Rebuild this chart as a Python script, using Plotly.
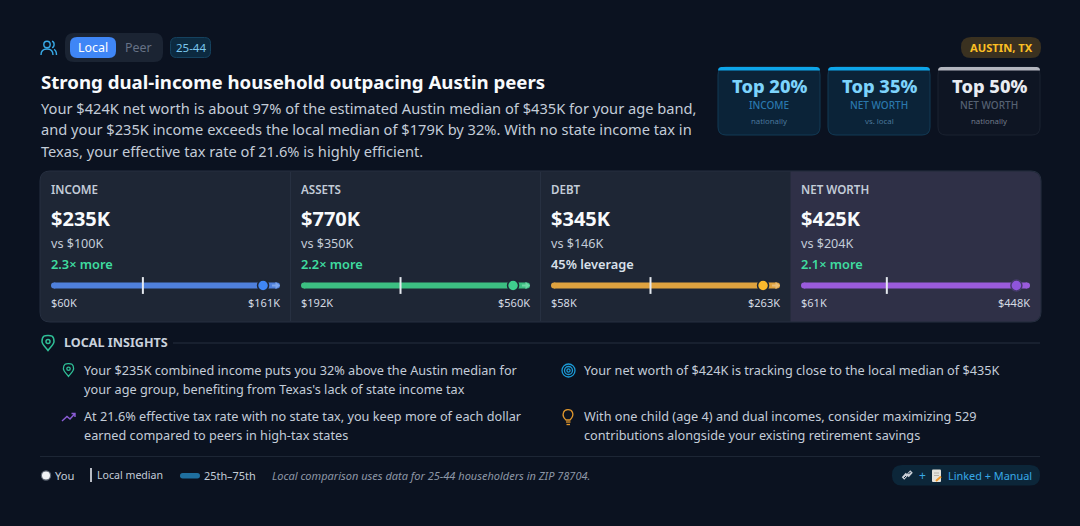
import plotly.graph_objects as go

W, H = 1080, 526
FONT = "Noto Sans"
BG = "#0b1220"

# ---- data ----
metric_labels = ["INCOME", "ASSETS", "DEBT", "NET WORTH"]
metric_values = ["$235K", "$770K", "$345K", "$425K"]
peer_labels = ["vs $100K", "vs $350K", "vs $146K", "vs $204K"]
delta_labels = ["2.3× more", "2.2× more", "45% leverage", "2.1× more"]
you_k = [235, 770, 345, 425]
median_k = [100, 350, 146, 204]
p25_k = [60, 192, 58, 61]
p75_k = [161, 560, 263, 448]
p25_labels = ["$60K", "$192K", "$58K", "$61K"]
p75_labels = ["$161K", "$560K", "$263K", "$448K"]
track_colors = ["#4f80dc", "#3cbf82", "#dfa23f", "#9a5bdc"]
marker_colors = ["#3f86f6", "#3fcf8e", "#fbb92c", "#8f55dc"]
marker_rings = ["#1e2635", "#1e2635", "#1e2635", "#453a6b"]
arrow_colors = ["#7ea5ea", "#6fd6a6", "#e8bd78", "#9a5bdc"]
delta_colors = ["#3fdca0", "#3fdca0", "#d9e0ea", "#3fdca0"]
rank_titles = ["Top 20%", "Top 35%", "Top 50%"]
rank_labels = ["INCOME", "NET WORTH", "NET WORTH"]
rank_subs = ["nationally", "vs. local", "nationally"]
body_lines = [
    "Your $424K net worth is about 97% of the estimated Austin median of $435K for your age band,",
    "and your $235K income exceeds the local median of $179K by 32%. With no state income tax in",
    "Texas, your effective tax rate of 21.6% is highly efficient.",
]
insights_left = [
    "Your $235K combined income puts you 32% above the Austin median for",
    "your age group, benefiting from Texas's lack of state income tax",
    "At 21.6% effective tax rate with no state tax, you keep more of each dollar",
    "earned compared to peers in high-tax states",
]
insights_right = [
    "Your net worth of $424K is tracking close to the local median of $435K",
    "With one child (age 4) and dual incomes, consider maximizing 529",
    "contributions alongside your existing retirement savings",
]

shapes, annos = [], []


def rrect(x0, y0, x1, y1, r=8, tl=True, tr=True, br=True, bl=True):
    p = f"M{x0 + (r if tl else 0)},{y0} L{x1 - (r if tr else 0)},{y0} "
    if tr:
        p += f"Q{x1},{y0} {x1},{y0 + r} "
    p += f"L{x1},{y1 - (r if br else 0)} "
    if br:
        p += f"Q{x1},{y1} {x1 - r},{y1} "
    p += f"L{x0 + (r if bl else 0)},{y1} "
    if bl:
        p += f"Q{x0},{y1} {x0},{y1 - r} "
    p += f"L{x0},{y0 + (r if tl else 0)} "
    if tl:
        p += f"Q{x0},{y0} {x0 + r},{y0} "
    return p + "Z"


def box(x0, y0, x1, y1, fill, r=8, line=None, lw=1, **kw):
    shapes.append(dict(type="path", path=rrect(x0, y0, x1, y1, r, **kw), xref="x", yref="y",
                       fillcolor=fill, line=dict(color=line or fill, width=lw if line else 0), layer="below"))


def path(d, color, lw=1.4, fill="rgba(0,0,0,0)"):
    shapes.append(dict(type="path", path=d, xref="x", yref="y", fillcolor=fill,
                       line=dict(color=color, width=lw), layer="below"))


def circle(cx, cy, r, color, lw=1.4, fill="rgba(0,0,0,0)"):
    shapes.append(dict(type="circle", x0=cx - r, x1=cx + r, y0=cy - r, y1=cy + r, xref="x", yref="y",
                       fillcolor=fill, line=dict(color=color, width=lw), layer="below"))


def hline(x0, x1, y, color, lw=1):
    shapes.append(dict(type="line", x0=x0, x1=x1, y0=y, y1=y, xref="x", yref="y",
                       line=dict(color=color, width=lw), layer="below"))


def vline(x, y0, y1, color, lw=1):
    shapes.append(dict(type="line", x0=x, x1=x, y0=y0, y1=y1, xref="x", yref="y",
                       line=dict(color=color, width=lw), layer="below"))


def text(x, y, s, size, color, anchor="left", bold=False, italic=False, weight=None):
    annos.append(dict(x=x, y=y, xref="x", yref="y", text=s, showarrow=False, xanchor=anchor, yanchor="middle",
                      borderpad=0, borderwidth=0,
                      font=dict(family=FONT, size=size, color=color, weight=weight or (700 if bold else 400),
                                style="italic" if italic else "normal")))


def pin(cx, cy, s, color, lw=1.4):
    top, bot = cy - 7.5 * s, cy + 7.5 * s
    w = 6 * s
    path(f"M{cx},{bot} C{cx - 2 * s},{cy + 4.5 * s} {cx - w},{cy + 1.5 * s} {cx - w},{cy - 1.5 * s} "
         f"C{cx - w},{top - 0.2} {cx - 2.5 * s},{top} {cx},{top} "
         f"C{cx + 2.5 * s},{top} {cx + w},{top - 0.2} {cx + w},{cy - 1.5 * s} "
         f"C{cx + w},{cy + 1.5 * s} {cx + 2 * s},{cy + 4.5 * s} {cx},{bot} Z", color, lw)
    circle(cx, cy - 1.5 * s, 2 * s, color, lw)


# ---- header ----
c = "#38a9e6"
circle(47, 44.5, 3.2, c, 1.4)
path("M41,55 C41,50.5 44,49 47,49 C50,49 53,50.5 53,55", c, 1.4)
path("M52,41.3 C54.8,41.8 54.8,47 52,47.6", c, 1.4)
path("M54,49.4 C55.8,50.2 56.5,52.5 56.5,55", c, 1.4)

box(65, 33, 163, 62, "#1b2433", r=9)
box(70, 37, 116, 58, "#3f86f6", r=7)
text(93, 47, "Local", 12.4, "#ffffff", "center")
text(138, 47, "Peer", 12.4, "#667286", "center")
box(170.5, 37.5, 210.5, 57.5, "#0c2a40", r=6, line="#15425f")
text(190.5, 47, "25-44", 11.5, "#7cc8ef", "center")
box(961, 37, 1041, 58, "#3a3120", r=10)
text(1001, 47, "AUSTIN, TX", 11.2, "#fbbf24", "center", bold=True)

text(40.5, 81.5, "Strong dual-income household outpacing Austin peers", 18.65, "#f8fafc", bold=True)
for y, line in zip([107.5, 129, 150.5], body_lines):
    text(40.5, y, line, 14.65, "#c3ccd8")

# ---- ranking cards ----
rank_x = [(718, 820), (828, 930), (938, 1040)]
rank_fill = ["#0b2338", "#0b2338", "#0e1523"]
rank_line = ["#123a55", "#123a55", "#1a2230"]
rank_bar = ["#0ea5e9", "#0ea5e9", "#b3b6bf"]
rank_title = ["#7dd3fc", "#7dd3fc", "#e8ecf2"]
rank_lab = ["#2a78ad", "#2a78ad", "#566273"]
rank_subc = ["#4a779b", "#4a779b", "#6f7988"]
for i in range(3):
    x0, x1 = rank_x[i]
    mid = (x0 + x1) / 2
    box(x0, 67, x1, 135, rank_fill[i], r=8, line=rank_line[i])
    box(x0, 67, x1, 70.5, rank_bar[i], r=3.5, br=False, bl=False)
    text(mid, 85.5, rank_titles[i], 18.3, rank_title[i], "center", weight=800)
    text(mid, 104.5, rank_labels[i], 10, rank_lab[i], "center", weight=500)
    text(mid, 120.5, rank_subs[i], 7.8, rank_subc[i], "center")

# ---- metric panel ----
box(40, 171, 1041, 322, "#1e2635", r=10, line="#262f40")
box(790.5, 171.5, 1040.5, 321.5, "#2f3047", r=10, tl=False, bl=False)
for x in (290.5, 540.5):
    vline(x, 172, 321, "#273041", 1)

cell_x = [51, 301, 551, 801]
TRACK_W = 229
CLAMP = 0.926  # markers of values beyond the band stop here, the arrow marks the overflow
traces = []
layout_axes = {}
for i in range(4):
    x = cell_x[i]
    text(x, 189.5, metric_labels[i], 11.6, "#c3ccd8", weight=600)
    text(x, 218.5, metric_values[i], 20, "#f8fafc", bold=True)
    text(x, 243.5, peer_labels[i], 12.6, "#c3ccd8")
    text(x, 263.5, delta_labels[i], 12.8, delta_colors[i], weight=600)
    text(x, 302.5, p25_labels[i], 11, "#d5dbe4")
    text(x + TRACK_W, 302.5, p75_labels[i], 11, "#d5dbe4", "right")

    ax = f"x{i + 2}"
    lo, hi = p25_k[i], p75_k[i]
    px = (hi - lo) / TRACK_W
    layout_axes[f"xaxis{i + 2}"] = dict(domain=[x / W, (x + TRACK_W) / W], range=[lo, hi], anchor="y",
                                        visible=False, fixedrange=True)
    traces.append(go.Scatter(x=[lo + 3 * px, hi - 3 * px], y=[285.5, 285.5], xaxis=ax, yaxis="y",
                             mode="lines+markers", line=dict(color=track_colors[i], width=6), cliponaxis=False,
                             marker=dict(size=6, color=track_colors[i]), hoverinfo="skip"))
    # the tick's left edge sits on the value, so its centre is one pixel to the right
    traces.append(go.Scatter(x=[median_k[i] + 1.2 * px], y=[285.5], xaxis=ax, yaxis="y", mode="markers",
                             cliponaxis=False,
                             marker=dict(symbol="line-ns", size=12, line=dict(width=2, color="#e5e9ef")),
                             hoverinfo="skip"))
    shown = you_k[i] if you_k[i] <= hi else lo + CLAMP * (hi - lo)
    traces.append(go.Scatter(x=[shown], y=[285.5], xaxis=ax, yaxis="y", mode="markers", cliponaxis=False,
                             marker=dict(size=11, color=marker_colors[i],
                                         line=dict(width=1.5, color=marker_rings[i])), hoverinfo="skip"))
    if you_k[i] > hi:
        traces.append(go.Scatter(x=[hi - 8 * px, hi - 3 * px], y=[285.5, 285.5], xaxis=ax, yaxis="y",
                                 mode="lines", line=dict(color=arrow_colors[i], width=2), cliponaxis=False,
                                 hoverinfo="skip"))
        traces.append(go.Scatter(x=[hi - 3 * px], y=[285.5], xaxis=ax, yaxis="y", mode="markers",
                                 cliponaxis=False, marker=dict(symbol="triangle-right", size=6, color=arrow_colors[i]),
                                 hoverinfo="skip"))

# ---- insights ----
pin(48, 343, 1.0, "#2fbf97", 1.5)
text(63.5, 342.5, "LOCAL INSIGHTS", 12.6, "#c9d1dc", bold=True)
hline(173, 1040, 343, "#262f3e", 1)

pin(68.5, 370, 0.85, "#2fbf97", 1.3)
path("M62,421 L67,416.5 L70,419 L75,413.5 M71.5,413.5 L75,413.5 L75,417", "#8b5cd6", 1.4)
for y, line in zip([369.5, 388.5, 415.5, 434.5], insights_left):
    text(84, y, line, 12.7, "#c3ccd8")

for r in (6.5, 4, 1.6):
    circle(568.5, 370.5, r, "#1c9ad6", 1.3)
c = "#e0972d"
path("M566,420 C563,417.5 563,414 563.5,412.5 C564.5,409 571,408.5 572.5,412.5 C573.5,415 572,418 570,420 Z", c, 1.3)
hline(566, 570.5, 422, c, 1.3)
hline(566.5, 570, 424.5, c, 1.3)
for y, line in zip([369.5, 415.5, 434.5], insights_right):
    text(584, y, line, 12.7, "#c3ccd8")

hline(40, 1040, 456.5, "#1d2635", 1)

# ---- legend row ----
circle(46, 475.5, 4.6, "#5b6472", 1.2, "#f1f3f6")
text(55, 475, "You", 11.2, "#c3ccd8")
vline(91, 468, 482, "#e5e9ef", 1.6)
text(97, 475, "Local median", 10.6, "#c3ccd8")
box(180, 473, 200, 478.5, "#1f6f9f", r=2.7)
text(204, 475, "25th–75th", 10.9, "#c3ccd8")
text(272, 475, "Local comparison uses data for 25-44 householders in ZIP 78704.", 11, "#8d97a6", italic=True)

box(892, 465, 1040, 485.5, "#0c2639", r=10)
# link icon
path("M903,478.5 L907,474", "#c9ced6", 3.4)
path("M907.5,476 L911.5,471.5", "#c9ced6", 3.4)
path("M904,478 L906,476", "#0c2639", 1)
path("M908.5,474 L910.5,472", "#0c2639", 1)
text(922, 475, "+", 12, "#38a9e6", "center")
# document icon
box(932, 469.5, 941, 482, "#e6e3dc", r=1)
path("M934,473 L939,473 M934,475.5 L939,475.5", "#a8a49c", 0.8)
path("M936,481 L941,476.5", "#ef9a2e", 2)
text(948, 475, "Linked + Manual", 10.9, "#38a9e6")

fig = go.Figure(traces)
fig.update_layout(
    width=W, height=H, margin=dict(l=0, r=0, t=0, b=0, pad=0), autosize=False,
    paper_bgcolor=BG, plot_bgcolor="rgba(0,0,0,0)", showlegend=False, hovermode=False,
    xaxis=dict(domain=[0, 1], range=[0, W], visible=False, fixedrange=True),
    yaxis=dict(domain=[0, 1], range=[H, 0], visible=False, fixedrange=True),
    shapes=shapes, annotations=annos, **layout_axes,
)
fig.write_html("out.html", config=dict(displayModeBar=False),
               post_script="document.body.style.margin='0';document.body.style.background='%s';"
                           "document.documentElement.style.overflow='hidden';" % BG)
